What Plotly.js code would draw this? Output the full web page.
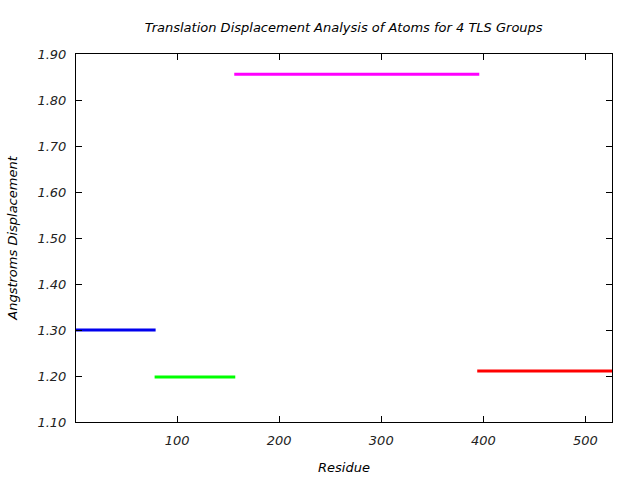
<!DOCTYPE html>
<html>
<head>
<meta charset="utf-8">
<script src="https://cdn.plot.ly/plotly-3.0.1.min.js"></script>
<style>html,body{margin:0;padding:0;background:#fff;}#chart{width:640px;height:480px;}</style>
</head>
<body>
<div id="chart"></div>
<script>
const groupNames = ["TLS Group 1", "TLS Group 2", "TLS Group 3", "TLS Group 4"];
const groupStart = [1, 78, 156, 394];
const groupEnd = [79, 157, 396, 526];
const groupDisp = [1.300, 1.198, 1.856, 1.211];
const groupColors = ["#0000ee", "#00ff00", "#ff00ff", "#ff0000"];
const xTicks = [100, 200, 300, 400, 500];

const traces = groupNames.map((n, i) => ({
  type: "scatter",
  mode: "lines",
  name: n,
  x: [groupStart[i], groupEnd[i]],
  y: [groupDisp[i], groupDisp[i]],
  line: {color: groupColors[i], width: 3},
  hoverinfo: "skip"
}));

const fontFam = "DejaVu Sans, Verdana, sans-serif";
const layout = {
  width: 640, height: 480,
  margin: {l: 76, r: 28, t: 54, b: 58},
  paper_bgcolor: "#fff", plot_bgcolor: "#fff",
  showlegend: false,
  font: {family: fontFam, size: 13, color: "#222", style: "italic"},
  title: {text: "Translation Displacement Analysis of Atoms for 4 TLS Groups",
          font: {family: fontFam, size: 13, color: "#000", style: "italic"},
          x: 0.537, xanchor: "center", y: 0.943, yanchor: "middle"},
  xaxis: {
    range: [1, 526], tickvals: xTicks, ticks: "inside", ticklen: 6, tickcolor: "#000",
    showline: true, linecolor: "#000", linewidth: 1, mirror: "ticks", showgrid: false, zeroline: false,
    ticklabelstandoff: 6,
    tickfont: {family: fontFam, size: 13, color: "#222", style: "italic"},
    title: {text: "Residue", font: {family: fontFam, size: 13, color: "#000", style: "italic"}, standoff: 16}
  },
  yaxis: {
    range: [1.10, 1.90], dtick: 0.1, tick0: 1.1, tickformat: ".2f", ticks: "inside", ticklen: 6, tickcolor: "#000",
    showline: true, linecolor: "#000", linewidth: 1, mirror: "ticks", showgrid: false, zeroline: false,
    ticklabelstandoff: 6,
    tickfont: {family: fontFam, size: 13, color: "#222", style: "italic"},
    title: {text: "Angstroms Displacement", font: {family: fontFam, size: 13, color: "#000", style: "italic"}, standoff: 16}
  }
};

Plotly.newPlot("chart", traces, layout, {staticPlot: true, displayModeBar: false});
</script>
</body>
</html>
